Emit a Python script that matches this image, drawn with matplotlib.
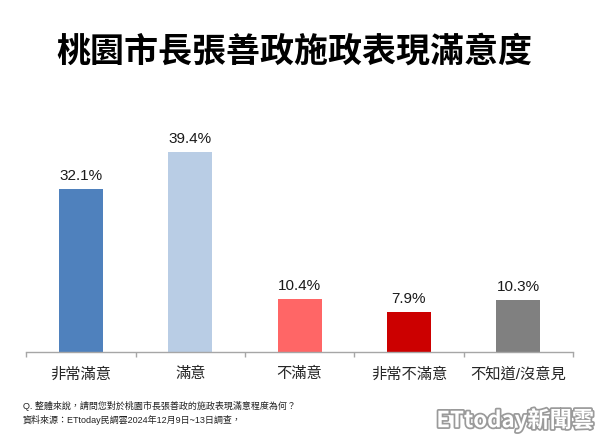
import numpy as np
import matplotlib
matplotlib.use('Agg')
import matplotlib.pyplot as plt
import matplotlib.patheffects as pe

plt.rcParams['font.family'] = ['Liberation Sans', 'Noto Sans CJK TC', 'DejaVu Sans']

# data
categories = ['非常滿意', '滿意', '不滿意', '非常不滿意', '不知道/沒意見']
values = [32.1, 39.4, 10.4, 7.9, 10.3]
bar_colors = ['#4F81BD', '#B9CDE5', '#FF6666', '#CC0000', '#808080']
title = '桃園市長張善政施政表現滿意度'
note_q = 'Q. 整體來說，請問您對於桃園市長張善政的施政表現滿意程度為何？'
note_src = '資料來源：ETtoday民調雲2024年12月9日~13日調查，'

fig = plt.figure(figsize=(6, 4.41), dpi=100)
ax = fig.add_axes([0.0438, 0.2018, 0.9112, 0.5057])

x = np.arange(len(categories))
ax.bar(x, values, width=0.4, color=bar_colors, zorder=2)
for xi, v in zip(x, values):
    ax.annotate(f'{v:.1f}%', (xi, v), xytext=(0, 4.5), textcoords='offset points',
                ha='center', va='bottom', fontsize=11, color='#1a1a1a')

ax.set_xlim(-0.5, len(categories) - 0.5)
ax.set_ylim(0, 44)
ax.set_yticks([])
for s in ['top', 'right', 'left']:
    ax.spines[s].set_visible(False)
ax.spines['bottom'].set_color('#A6A6A6')
ax.spines['bottom'].set_linewidth(1.0)

ax.set_xticks(x)
ax.set_xticklabels(categories, fontsize=11, color='#262626')
ax.tick_params(axis='x', which='major', length=0, pad=11)
ax.set_xticks(np.arange(len(categories) + 1) - 0.5, minor=True)
ax.tick_params(axis='x', which='minor', length=3.8, color='#A6A6A6', width=1.0)

fig.text(0.49, 1 - 51 / 441, title, ha='center', va='center', fontsize=24.5,
         fontweight='bold', color='#000000', family=['Noto Sans CJK TC'])

fig.text(22.7 / 600, 1 - 406 / 441, note_q, ha='left', va='center', fontsize=6.5, color='#222222')
fig.text(22.7 / 600, 1 - 419.5 / 441, note_src, ha='left', va='center', fontsize=6.5, color='#222222')

fig.text(594 / 600, 1 - 420 / 441, 'ETtoday新聞雲', ha='right', va='center', fontsize=16,
         fontweight='bold', color='white', family=['Noto Sans CJK TC'],
         path_effects=[pe.withStroke(linewidth=2.5, foreground='#9a9a9a')])

fig.savefig('out.png', dpi=100)
